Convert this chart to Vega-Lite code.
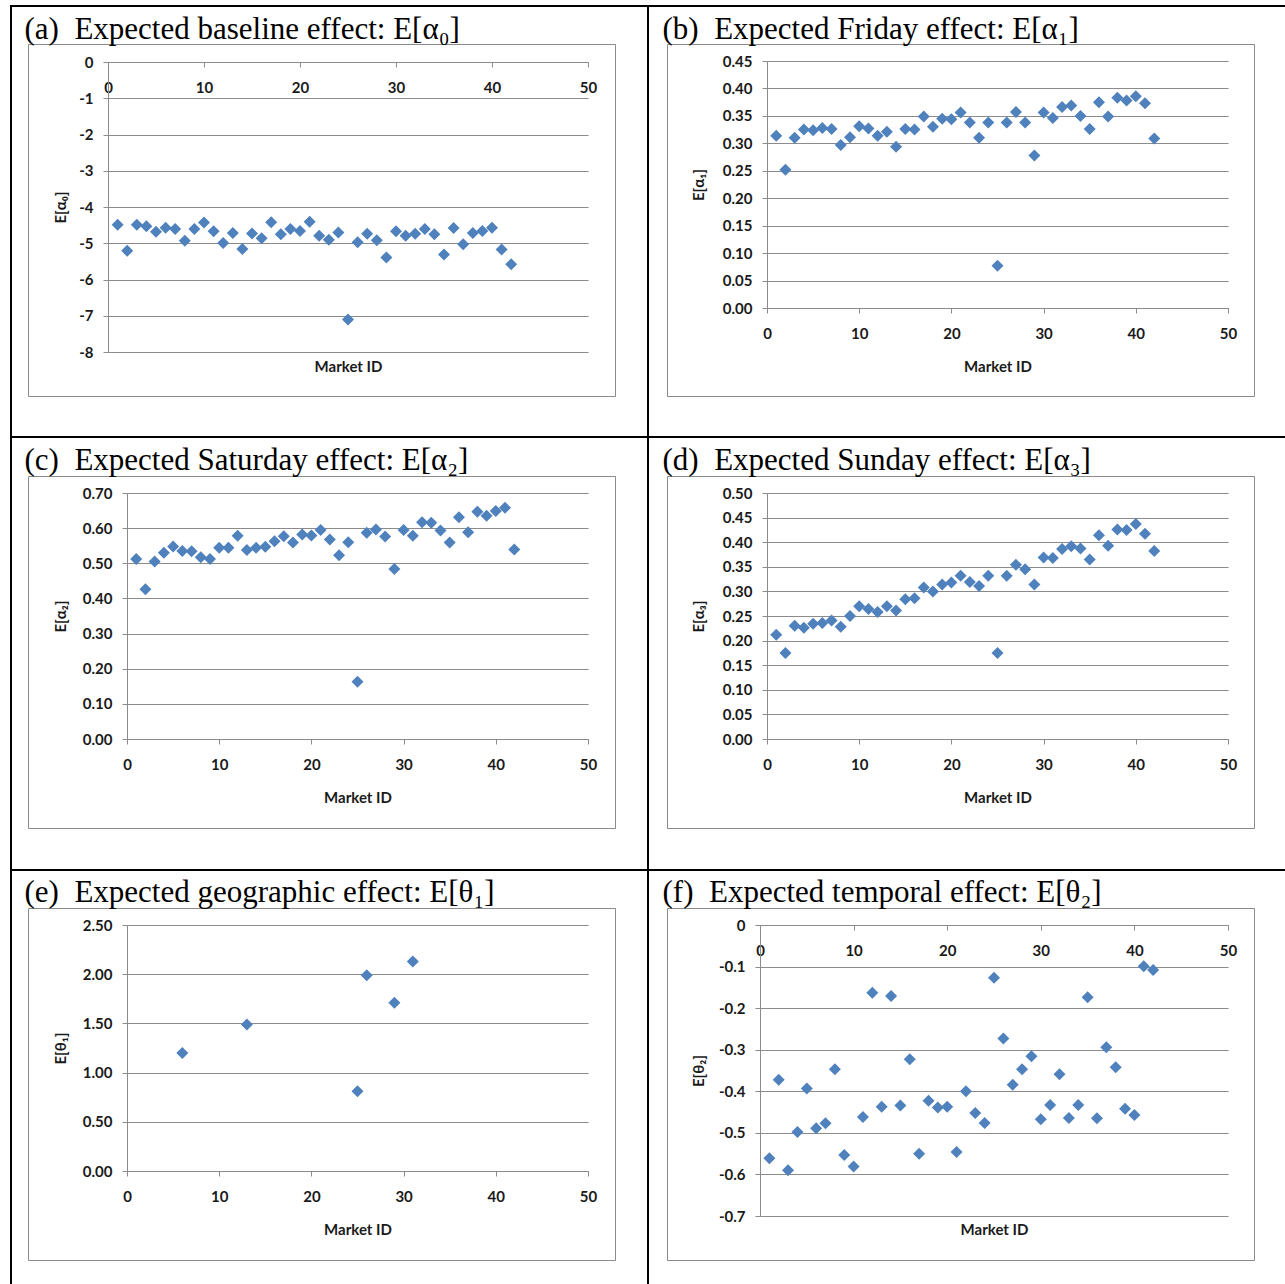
{
  "$schema": "https://vega.github.io/schema/vega-lite/v6.json",
  "width": 1285,
  "height": 1284,
  "autosize": "none",
  "padding": 0,
  "background": "white",
  "config": {
    "view": {"stroke": null},
    "axis": {
      "domainColor": "#8b8b8b", "tickColor": "#8b8b8b", "gridColor": "#8b8b8b", "gridOpacity": 1,
      "labelFont": "Lato", "labelFontSize": 15, "labelFontWeight": "bold", "labelColor": "#1a1a1a",
      "titleFont": "Lato", "titleFontSize": 15, "titleFontWeight": "bold", "titleColor": "#1a1a1a",
      "labelFlush": false, "labelOverlap": false, "titleLimit": 1000, "tickSize": 5
    }
  },
  "datasets": {
    "a": [
      {"market": 1, "value": -4.49}, {"market": 2, "value": -5.21}, {"market": 3, "value": -4.49}, {"market": 4, "value": -4.53},
      {"market": 5, "value": -4.68}, {"market": 6, "value": -4.57}, {"market": 7, "value": -4.61}, {"market": 8, "value": -4.93},
      {"market": 9, "value": -4.61}, {"market": 10, "value": -4.43}, {"market": 11, "value": -4.67}, {"market": 12, "value": -4.99},
      {"market": 13, "value": -4.72}, {"market": 14, "value": -5.16}, {"market": 15, "value": -4.73}, {"market": 16, "value": -4.86},
      {"market": 17, "value": -4.42}, {"market": 18, "value": -4.75}, {"market": 19, "value": -4.61}, {"market": 20, "value": -4.66},
      {"market": 21, "value": -4.41}, {"market": 22, "value": -4.79}, {"market": 23, "value": -4.90}, {"market": 24, "value": -4.70},
      {"market": 25, "value": -7.10}, {"market": 26, "value": -4.97}, {"market": 27, "value": -4.74}, {"market": 28, "value": -4.92},
      {"market": 29, "value": -5.39}, {"market": 30, "value": -4.67}, {"market": 31, "value": -4.79}, {"market": 32, "value": -4.74},
      {"market": 33, "value": -4.61}, {"market": 34, "value": -4.75}, {"market": 35, "value": -5.31}, {"market": 36, "value": -4.58},
      {"market": 37, "value": -5.03}, {"market": 38, "value": -4.72}, {"market": 39, "value": -4.66}, {"market": 40, "value": -4.57},
      {"market": 41, "value": -5.17}, {"market": 42, "value": -5.58}
    ],
    "b": [
      {"market": 1, "value": 0.314}, {"market": 2, "value": 0.252}, {"market": 3, "value": 0.310}, {"market": 4, "value": 0.325},
      {"market": 5, "value": 0.324}, {"market": 6, "value": 0.328}, {"market": 7, "value": 0.326}, {"market": 8, "value": 0.297},
      {"market": 9, "value": 0.311}, {"market": 10, "value": 0.331}, {"market": 11, "value": 0.327}, {"market": 12, "value": 0.314},
      {"market": 13, "value": 0.321}, {"market": 14, "value": 0.294}, {"market": 15, "value": 0.326}, {"market": 16, "value": 0.325},
      {"market": 17, "value": 0.349}, {"market": 18, "value": 0.330}, {"market": 19, "value": 0.345}, {"market": 20, "value": 0.344},
      {"market": 21, "value": 0.356}, {"market": 22, "value": 0.338}, {"market": 23, "value": 0.310}, {"market": 24, "value": 0.338},
      {"market": 25, "value": 0.077}, {"market": 26, "value": 0.338}, {"market": 27, "value": 0.357}, {"market": 28, "value": 0.338},
      {"market": 29, "value": 0.278}, {"market": 30, "value": 0.356}, {"market": 31, "value": 0.346}, {"market": 32, "value": 0.366},
      {"market": 33, "value": 0.369}, {"market": 34, "value": 0.350}, {"market": 35, "value": 0.326}, {"market": 36, "value": 0.375},
      {"market": 37, "value": 0.349}, {"market": 38, "value": 0.383}, {"market": 39, "value": 0.378}, {"market": 40, "value": 0.386},
      {"market": 41, "value": 0.373}, {"market": 42, "value": 0.309}
    ],
    "c": [
      {"market": 1, "value": 0.512}, {"market": 2, "value": 0.426}, {"market": 3, "value": 0.505}, {"market": 4, "value": 0.530},
      {"market": 5, "value": 0.548}, {"market": 6, "value": 0.535}, {"market": 7, "value": 0.534}, {"market": 8, "value": 0.517},
      {"market": 9, "value": 0.512}, {"market": 10, "value": 0.544}, {"market": 11, "value": 0.544}, {"market": 12, "value": 0.578},
      {"market": 13, "value": 0.538}, {"market": 14, "value": 0.544}, {"market": 15, "value": 0.547}, {"market": 16, "value": 0.563},
      {"market": 17, "value": 0.577}, {"market": 18, "value": 0.559}, {"market": 19, "value": 0.582}, {"market": 20, "value": 0.579},
      {"market": 21, "value": 0.595}, {"market": 22, "value": 0.568}, {"market": 23, "value": 0.523}, {"market": 24, "value": 0.560},
      {"market": 25, "value": 0.163}, {"market": 26, "value": 0.587}, {"market": 27, "value": 0.596}, {"market": 28, "value": 0.576},
      {"market": 29, "value": 0.484}, {"market": 30, "value": 0.595}, {"market": 31, "value": 0.578}, {"market": 32, "value": 0.617},
      {"market": 33, "value": 0.615}, {"market": 34, "value": 0.593}, {"market": 35, "value": 0.559}, {"market": 36, "value": 0.631},
      {"market": 37, "value": 0.588}, {"market": 38, "value": 0.647}, {"market": 39, "value": 0.635}, {"market": 40, "value": 0.649},
      {"market": 41, "value": 0.658}, {"market": 42, "value": 0.539}
    ],
    "d": [
      {"market": 1, "value": 0.212}, {"market": 2, "value": 0.175}, {"market": 3, "value": 0.230}, {"market": 4, "value": 0.226},
      {"market": 5, "value": 0.234}, {"market": 6, "value": 0.236}, {"market": 7, "value": 0.241}, {"market": 8, "value": 0.228},
      {"market": 9, "value": 0.250}, {"market": 10, "value": 0.270}, {"market": 11, "value": 0.264}, {"market": 12, "value": 0.258},
      {"market": 13, "value": 0.270}, {"market": 14, "value": 0.261}, {"market": 15, "value": 0.284}, {"market": 16, "value": 0.286},
      {"market": 17, "value": 0.308}, {"market": 18, "value": 0.300}, {"market": 19, "value": 0.314}, {"market": 20, "value": 0.318},
      {"market": 21, "value": 0.332}, {"market": 22, "value": 0.319}, {"market": 23, "value": 0.311}, {"market": 24, "value": 0.332},
      {"market": 25, "value": 0.175}, {"market": 26, "value": 0.332}, {"market": 27, "value": 0.354}, {"market": 28, "value": 0.345},
      {"market": 29, "value": 0.314}, {"market": 30, "value": 0.369}, {"market": 31, "value": 0.368}, {"market": 32, "value": 0.386},
      {"market": 33, "value": 0.392}, {"market": 34, "value": 0.387}, {"market": 35, "value": 0.365}, {"market": 36, "value": 0.414},
      {"market": 37, "value": 0.393}, {"market": 38, "value": 0.426}, {"market": 39, "value": 0.425}, {"market": 40, "value": 0.437},
      {"market": 41, "value": 0.417}, {"market": 42, "value": 0.382}
    ],
    "e": [
      {"market": 6, "value": 1.20}, {"market": 13, "value": 1.49}, {"market": 25, "value": 0.81},
      {"market": 26, "value": 1.99}, {"market": 29, "value": 1.71}, {"market": 31, "value": 2.13}
    ],
    "f": [
      {"market": 1, "value": -0.561}, {"market": 2, "value": -0.372}, {"market": 3, "value": -0.590}, {"market": 4, "value": -0.498},
      {"market": 5, "value": -0.393}, {"market": 6, "value": -0.489}, {"market": 7, "value": -0.477}, {"market": 8, "value": -0.347},
      {"market": 9, "value": -0.553}, {"market": 10, "value": -0.581}, {"market": 11, "value": -0.462}, {"market": 12, "value": -0.163},
      {"market": 13, "value": -0.437}, {"market": 14, "value": -0.171}, {"market": 15, "value": -0.434}, {"market": 16, "value": -0.323},
      {"market": 17, "value": -0.550}, {"market": 18, "value": -0.423}, {"market": 19, "value": -0.439}, {"market": 20, "value": -0.437},
      {"market": 21, "value": -0.546}, {"market": 22, "value": -0.400}, {"market": 23, "value": -0.452}, {"market": 24, "value": -0.476},
      {"market": 25, "value": -0.127}, {"market": 26, "value": -0.273}, {"market": 27, "value": -0.384}, {"market": 28, "value": -0.347},
      {"market": 29, "value": -0.316}, {"market": 30, "value": -0.467}, {"market": 31, "value": -0.433}, {"market": 32, "value": -0.359},
      {"market": 33, "value": -0.464}, {"market": 34, "value": -0.433}, {"market": 35, "value": -0.174}, {"market": 36, "value": -0.465},
      {"market": 37, "value": -0.294}, {"market": 38, "value": -0.342}, {"market": 39, "value": -0.442}, {"market": 40, "value": -0.457},
      {"market": 41, "value": -0.099}, {"market": 42, "value": -0.108}
    ],
    "one": [{"d": 0}]
  },
  "layer": [
    {
      "data": {"name": "a"},
      "mark": {"type": "point", "shape": "diamond", "filled": true, "size": 144, "color": "#4F81BD", "opacity": 1},
      "encoding": {
        "x": {"field": "market", "type": "quantitative", "scale": {"domain": [0, 50], "range": [108, 588], "nice": false},
              "axis": {"orient": "bottom", "offset": -1222, "values": [0, 10, 20, 30, 40, 50], "labelPadding": 13, "grid": false,
                       "title": "Market ID", "titleY": 304, "titleBaseline": "middle"}},
        "y": {"field": "value", "type": "quantitative", "scale": {"domain": [-8, 0], "range": [352, 62], "nice": false, "zero": false},
              "axis": {"orient": "left", "offset": -108, "values": [-8, -7, -6, -5, -4, -3, -2, -1, 0], "labelExpr": "'' + datum.value",
                       "grid": true, "labelPadding": 10, "title": "E[α₀]", "titleX": -48, "titleBaseline": "middle"}}
      }
    },
    {
      "data": {"name": "b"},
      "mark": {"type": "point", "shape": "diamond", "filled": true, "size": 144, "color": "#4F81BD", "opacity": 1},
      "encoding": {
        "x": {"field": "market", "type": "quantitative", "scale": {"domain": [0, 50], "range": [767, 1228], "nice": false},
              "axis": {"orient": "bottom", "offset": -976, "values": [0, 10, 20, 30, 40, 50], "labelPadding": 13, "grid": false,
                       "title": "Market ID", "titleY": 58, "titleBaseline": "middle"}},
        "y": {"field": "value", "type": "quantitative", "scale": {"domain": [0, 0.45], "range": [308, 61], "nice": false, "zero": false},
              "axis": {"orient": "left", "offset": -767, "values": [0, 0.05, 0.1, 0.15, 0.2, 0.25, 0.3, 0.35, 0.4, 0.45], "format": ".2f",
                       "grid": true, "labelPadding": 10, "title": "E[α₁]", "titleX": -69, "titleBaseline": "middle"}}
      }
    },
    {
      "data": {"name": "c"},
      "mark": {"type": "point", "shape": "diamond", "filled": true, "size": 144, "color": "#4F81BD", "opacity": 1},
      "encoding": {
        "x": {"field": "market", "type": "quantitative", "scale": {"domain": [0, 50], "range": [127, 588], "nice": false},
              "axis": {"orient": "bottom", "offset": -545, "values": [0, 10, 20, 30, 40, 50], "labelPadding": 13, "grid": false,
                       "title": "Market ID", "titleY": 58, "titleBaseline": "middle"}},
        "y": {"field": "value", "type": "quantitative", "scale": {"domain": [0, 0.7], "range": [739, 493], "nice": false, "zero": false},
              "axis": {"orient": "left", "offset": -127, "values": [0, 0.1, 0.2, 0.3, 0.4, 0.5, 0.6, 0.7], "format": ".2f",
                       "grid": true, "labelPadding": 10, "title": "E[α₂]", "titleX": -67, "titleBaseline": "middle"}}
      }
    },
    {
      "data": {"name": "d"},
      "mark": {"type": "point", "shape": "diamond", "filled": true, "size": 144, "color": "#4F81BD", "opacity": 1},
      "encoding": {
        "x": {"field": "market", "type": "quantitative", "scale": {"domain": [0, 50], "range": [767, 1228], "nice": false},
              "axis": {"orient": "bottom", "offset": -545, "values": [0, 10, 20, 30, 40, 50], "labelPadding": 13, "grid": false,
                       "title": "Market ID", "titleY": 58, "titleBaseline": "middle"}},
        "y": {"field": "value", "type": "quantitative", "scale": {"domain": [0, 0.5], "range": [739, 493], "nice": false, "zero": false},
              "axis": {"orient": "left", "offset": -767, "values": [0, 0.05, 0.1, 0.15, 0.2, 0.25, 0.3, 0.35, 0.4, 0.45, 0.5], "format": ".2f",
                       "grid": true, "labelPadding": 10, "title": "E[α₃]", "titleX": -69, "titleBaseline": "middle"}}
      }
    },
    {
      "data": {"name": "e"},
      "mark": {"type": "point", "shape": "diamond", "filled": true, "size": 144, "color": "#4F81BD", "opacity": 1},
      "encoding": {
        "x": {"field": "market", "type": "quantitative", "scale": {"domain": [0, 50], "range": [127, 588], "nice": false},
              "axis": {"orient": "bottom", "offset": -113, "values": [0, 10, 20, 30, 40, 50], "labelPadding": 13, "grid": false,
                       "title": "Market ID", "titleY": 58, "titleBaseline": "middle"}},
        "y": {"field": "value", "type": "quantitative", "scale": {"domain": [0, 2.5], "range": [1171, 925], "nice": false, "zero": false},
              "axis": {"orient": "left", "offset": -127, "values": [0, 0.5, 1, 1.5, 2, 2.5], "format": ".2f",
                       "grid": true, "labelPadding": 10, "title": "E[θ₁]", "titleX": -67, "titleBaseline": "middle"}}
      }
    },
    {
      "data": {"name": "f"},
      "mark": {"type": "point", "shape": "diamond", "filled": true, "size": 144, "color": "#4F81BD", "opacity": 1},
      "encoding": {
        "x": {"field": "market", "type": "quantitative", "scale": {"domain": [0, 50], "range": [760, 1228], "nice": false},
              "axis": {"orient": "bottom", "offset": -359, "values": [0, 10, 20, 30, 40, 50], "labelPadding": 13, "grid": false,
                       "title": "Market ID", "titleY": 304, "titleBaseline": "middle"}},
        "y": {"field": "value", "type": "quantitative", "scale": {"domain": [-0.7, 0], "range": [1216, 925], "nice": false, "zero": false},
              "axis": {"orient": "left", "offset": -760, "values": [-0.7, -0.6, -0.5, -0.4, -0.3, -0.2, -0.1, 0], "labelExpr": "'' + datum.value",
                       "grid": true, "labelPadding": 10, "title": "E[θ₂]", "titleX": -62, "titleBaseline": "middle"}}
      }
    },
    {
      "data": {"name": "one"},
      "mark": {"type": "point", "opacity": 0, "size": 1},
      "encoding": {
        "x": {"field": "d", "type": "quantitative", "scale": {"domain": [0, 1], "range": [28, 615], "nice": false},
              "axis": {"orient": "top", "offset": -44, "ticks": false, "labels": false, "grid": false,
                       "title": "(a)\u00a0 Expected baseline effect: E[α₀]", "titleX": 24, "titleY": -6, "titleAlign": "left", "titleBaseline": "alphabetic",
                       "titleFont": "Liberation Serif", "titleFontSize": 31, "titleFontWeight": "normal", "titleColor": "black"}},
        "y": {"field": "d", "type": "quantitative", "scale": {"domain": [0, 1], "range": [396, 44], "nice": false},
              "axis": {"orient": "left", "offset": -28, "ticks": false, "labels": false, "grid": false, "title": null}}
      }
    },
    {
      "data": {"name": "one"},
      "mark": {"type": "point", "opacity": 0, "size": 1},
      "encoding": {
        "x": {"field": "d", "type": "quantitative", "scale": {"domain": [0, 1], "range": [667, 1254], "nice": false},
              "axis": {"orient": "top", "offset": -44, "ticks": false, "labels": false, "grid": false,
                       "title": "(b)\u00a0 Expected Friday effect: E[α₁]", "titleX": 662, "titleY": -6, "titleAlign": "left", "titleBaseline": "alphabetic",
                       "titleFont": "Liberation Serif", "titleFontSize": 31, "titleFontWeight": "normal", "titleColor": "black"}},
        "y": {"field": "d", "type": "quantitative", "scale": {"domain": [0, 1], "range": [396, 44], "nice": false},
              "axis": {"orient": "left", "offset": -667, "ticks": false, "labels": false, "grid": false, "title": null}}
      }
    },
    {
      "data": {"name": "one"},
      "mark": {"type": "point", "opacity": 0, "size": 1},
      "encoding": {
        "x": {"field": "d", "type": "quantitative", "scale": {"domain": [0, 1], "range": [28, 615], "nice": false},
              "axis": {"orient": "top", "offset": -476, "ticks": false, "labels": false, "grid": false,
                       "title": "(c)\u00a0 Expected Saturday effect: E[α₂]", "titleX": 24, "titleY": -7, "titleAlign": "left", "titleBaseline": "alphabetic",
                       "titleFont": "Liberation Serif", "titleFontSize": 31, "titleFontWeight": "normal", "titleColor": "black"}},
        "y": {"field": "d", "type": "quantitative", "scale": {"domain": [0, 1], "range": [828, 476], "nice": false},
              "axis": {"orient": "left", "offset": -28, "ticks": false, "labels": false, "grid": false, "title": null}}
      }
    },
    {
      "data": {"name": "one"},
      "mark": {"type": "point", "opacity": 0, "size": 1},
      "encoding": {
        "x": {"field": "d", "type": "quantitative", "scale": {"domain": [0, 1], "range": [667, 1254], "nice": false},
              "axis": {"orient": "top", "offset": -476, "ticks": false, "labels": false, "grid": false,
                       "title": "(d)\u00a0 Expected Sunday effect: E[α₃]", "titleX": 662, "titleY": -7, "titleAlign": "left", "titleBaseline": "alphabetic",
                       "titleFont": "Liberation Serif", "titleFontSize": 31, "titleFontWeight": "normal", "titleColor": "black"}},
        "y": {"field": "d", "type": "quantitative", "scale": {"domain": [0, 1], "range": [828, 476], "nice": false},
              "axis": {"orient": "left", "offset": -667, "ticks": false, "labels": false, "grid": false, "title": null}}
      }
    },
    {
      "data": {"name": "one"},
      "mark": {"type": "point", "opacity": 0, "size": 1},
      "encoding": {
        "x": {"field": "d", "type": "quantitative", "scale": {"domain": [0, 1], "range": [28, 615], "nice": false},
              "axis": {"orient": "top", "offset": -908, "ticks": false, "labels": false, "grid": false,
                       "title": "(e)\u00a0 Expected geographic effect: E[θ₁]", "titleX": 24, "titleY": -7, "titleAlign": "left", "titleBaseline": "alphabetic",
                       "titleFont": "Liberation Serif", "titleFontSize": 31, "titleFontWeight": "normal", "titleColor": "black"}},
        "y": {"field": "d", "type": "quantitative", "scale": {"domain": [0, 1], "range": [1260, 908], "nice": false},
              "axis": {"orient": "left", "offset": -28, "ticks": false, "labels": false, "grid": false, "title": null}}
      }
    },
    {
      "data": {"name": "one"},
      "mark": {"type": "point", "opacity": 0, "size": 1},
      "encoding": {
        "x": {"field": "d", "type": "quantitative", "scale": {"domain": [0, 1], "range": [667, 1254], "nice": false},
              "axis": {"orient": "top", "offset": -908, "ticks": false, "labels": false, "grid": false,
                       "title": "(f)\u00a0 Expected temporal effect: E[θ₂]", "titleX": 662, "titleY": -7, "titleAlign": "left", "titleBaseline": "alphabetic",
                       "titleFont": "Liberation Serif", "titleFontSize": 31, "titleFontWeight": "normal", "titleColor": "black"}},
        "y": {"field": "d", "type": "quantitative", "scale": {"domain": [0, 1], "range": [1260, 908], "nice": false},
              "axis": {"orient": "left", "offset": -667, "ticks": false, "labels": false, "grid": false, "title": null}}
      }
    },
    {
      "data": {"name": "one"},
      "mark": {"type": "point", "opacity": 0, "size": 1},
      "encoding": {
        "x": {"field": "d", "type": "quantitative", "scale": {"domain": [0, 1], "range": [28, 615], "nice": false},
              "axis": {"orient": "bottom", "offset": -888, "ticks": false, "labels": false, "grid": false, "title": null}},
        "y": {"field": "d", "type": "quantitative", "scale": {"domain": [0, 1], "range": [396, 44], "nice": false},
              "axis": {"orient": "right", "offset": -670, "ticks": false, "labels": false, "grid": false, "title": null}}
      }
    },
    {
      "data": {"name": "one"},
      "mark": {"type": "point", "opacity": 0, "size": 1},
      "encoding": {
        "x": {"field": "d", "type": "quantitative", "scale": {"domain": [0, 1], "range": [667, 1254], "nice": false},
              "axis": {"orient": "bottom", "offset": -888, "ticks": false, "labels": false, "grid": false, "title": null}},
        "y": {"field": "d", "type": "quantitative", "scale": {"domain": [0, 1], "range": [396, 44], "nice": false},
              "axis": {"orient": "right", "offset": -31, "ticks": false, "labels": false, "grid": false, "title": null}}
      }
    },
    {
      "data": {"name": "one"},
      "mark": {"type": "point", "opacity": 0, "size": 1},
      "encoding": {
        "x": {"field": "d", "type": "quantitative", "scale": {"domain": [0, 1], "range": [28, 615], "nice": false},
              "axis": {"orient": "bottom", "offset": -456, "ticks": false, "labels": false, "grid": false, "title": null}},
        "y": {"field": "d", "type": "quantitative", "scale": {"domain": [0, 1], "range": [828, 476], "nice": false},
              "axis": {"orient": "right", "offset": -670, "ticks": false, "labels": false, "grid": false, "title": null}}
      }
    },
    {
      "data": {"name": "one"},
      "mark": {"type": "point", "opacity": 0, "size": 1},
      "encoding": {
        "x": {"field": "d", "type": "quantitative", "scale": {"domain": [0, 1], "range": [667, 1254], "nice": false},
              "axis": {"orient": "bottom", "offset": -456, "ticks": false, "labels": false, "grid": false, "title": null}},
        "y": {"field": "d", "type": "quantitative", "scale": {"domain": [0, 1], "range": [828, 476], "nice": false},
              "axis": {"orient": "right", "offset": -31, "ticks": false, "labels": false, "grid": false, "title": null}}
      }
    },
    {
      "data": {"name": "one"},
      "mark": {"type": "point", "opacity": 0, "size": 1},
      "encoding": {
        "x": {"field": "d", "type": "quantitative", "scale": {"domain": [0, 1], "range": [28, 615], "nice": false},
              "axis": {"orient": "bottom", "offset": -24, "ticks": false, "labels": false, "grid": false, "title": null}},
        "y": {"field": "d", "type": "quantitative", "scale": {"domain": [0, 1], "range": [1260, 908], "nice": false},
              "axis": {"orient": "right", "offset": -670, "ticks": false, "labels": false, "grid": false, "title": null}}
      }
    },
    {
      "data": {"name": "one"},
      "mark": {"type": "point", "opacity": 0, "size": 1},
      "encoding": {
        "x": {"field": "d", "type": "quantitative", "scale": {"domain": [0, 1], "range": [667, 1254], "nice": false},
              "axis": {"orient": "bottom", "offset": -24, "ticks": false, "labels": false, "grid": false, "title": null}},
        "y": {"field": "d", "type": "quantitative", "scale": {"domain": [0, 1], "range": [1260, 908], "nice": false},
              "axis": {"orient": "right", "offset": -31, "ticks": false, "labels": false, "grid": false, "title": null}}
      }
    },
    {
      "data": {"name": "one"},
      "mark": {"type": "point", "opacity": 0, "size": 1},
      "encoding": {
        "x": {"field": "d", "type": "quantitative", "scale": {"domain": [0, 1], "range": [10, 1285], "nice": false},
              "axis": {"orient": "bottom", "offset": -1278, "ticks": false, "labels": false, "grid": false, "title": null,
                       "domainColor": "black", "domainWidth": 2, "translate": 0}},
        "y": {"field": "d", "type": "quantitative", "scale": {"domain": [0, 1], "range": [1284, 5], "nice": false},
              "axis": {"orient": "left", "offset": -11, "ticks": false, "labels": false, "grid": false, "title": null,
                       "domainColor": "black", "domainWidth": 2, "translate": 0}}
      }
    },
    {
      "data": {"name": "one"},
      "mark": {"type": "point", "opacity": 0, "size": 1},
      "encoding": {
        "x": {"field": "d", "type": "quantitative", "scale": {"domain": [0, 1], "range": [10, 1285], "nice": false},
              "axis": {"orient": "bottom", "offset": -847, "ticks": false, "labels": false, "grid": false, "title": null,
                       "domainColor": "black", "domainWidth": 2, "translate": 0}},
        "y": {"field": "d", "type": "quantitative", "scale": {"domain": [0, 1], "range": [1284, 5], "nice": false},
              "axis": {"orient": "left", "offset": -648, "ticks": false, "labels": false, "grid": false, "title": null,
                       "domainColor": "black", "domainWidth": 2, "translate": 0}}
      }
    },
    {
      "data": {"name": "one"},
      "mark": {"type": "point", "opacity": 0, "size": 1},
      "encoding": {
        "x": {"field": "d", "type": "quantitative", "scale": {"domain": [0, 1], "range": [10, 1285], "nice": false},
              "axis": {"orient": "bottom", "offset": -414, "ticks": false, "labels": false, "grid": false, "title": null,
                       "domainColor": "black", "domainWidth": 2, "translate": 0}}
      }
    }
  ],
  "resolve": {
    "scale": {"x": "independent", "y": "independent"},
    "axis": {"x": "independent", "y": "independent"}
  }
}
